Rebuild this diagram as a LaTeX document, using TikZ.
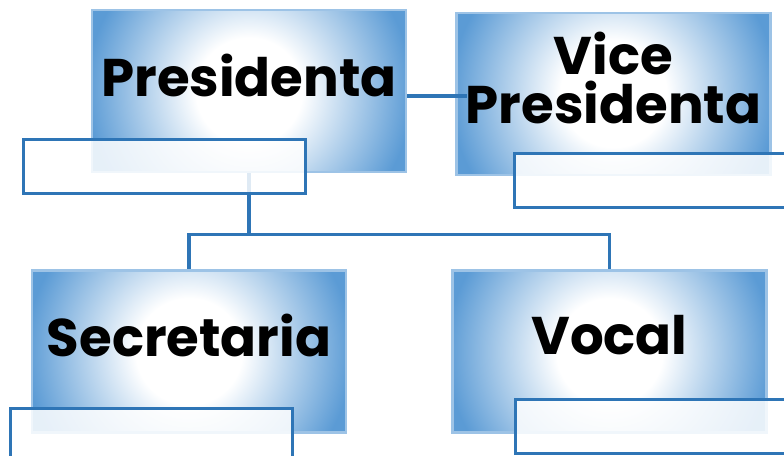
\documentclass[tikz,border=0pt]{standalone}
\usepackage{fontspec}
\setmainfont{Poppins}
\usetikzlibrary{positioning,calc}
\definecolor{glowblue}{HTML}{5B9BD5}
\definecolor{rimblue}{HTML}{9DC3E6}
\definecolor{linkblue}{HTML}{2E75B6}
\pgfdeclareradialshading{boxglow}{\pgfpoint{0bp}{0bp}}{color(0bp)=(white); color(7.5bp)=(white); color(23bp)=(glowblue); color(25bp)=(glowblue); color(50bp)=(glowblue)}

\begin{document}
\begin{tikzpicture}[
  x=1pt, y=1pt,
  font=\bfseries\fontsize{53}{49}\selectfont,
  role/.style={draw=rimblue, line width=2.5pt, fill=glowblue, inner sep=0pt,
               minimum width=314pt, minimum height=162pt,
               path picture={\shade[shading=boxglow]
                 (path picture bounding box.center) circle (177pt);}},
  rolename/.style={align=center, yshift=16pt},
  namebox/.style={draw=linkblue, line width=2.8pt, fill=white, fill opacity=0.85,
                  draw opacity=1, inner sep=0pt, anchor=north west,
                  minimum width=282pt, minimum height=54pt},
  link/.style={draw=linkblue, line width=3.2pt},
]
\useasboundingbox (0,0) rectangle (784,455);

% ---- role boxes ----
\node[role, label={[rolename]center:Presidenta}] (pres) at (249,364) {};
\node[role, label={[rolename]center:Vice\\Presidenta}] (vice) at (613.5,361) {};
\node[role, label={[rolename]center:Secretaria}] (sec) at (189,103.5) {};
\node[role, label={[rolename]center:Vocal}] (vocal) at (609.5,103.5) {};

% ---- connectors ----
\draw[link] ([yshift=-5pt]pres.east) -- ([xshift=12pt,yshift=-2pt]vice.west);
\draw[link] (pres.south) -- ++(0,-61) coordinate (fork);
\draw[link] (fork) -| (sec.north);
\draw[link] (fork) -| (vocal.north);

% ---- empty name boxes ----
\node[namebox] (presname)  at ([xshift=-69pt,yshift=35pt]pres.south west) {};
\node[namebox] (vicename)  at ([xshift=58pt,yshift=24pt]vice.south west) {};
\node[namebox] (secname)   at ([xshift=-22pt,yshift=27pt]sec.south west) {};
\node[namebox] (vocalname) at ([xshift=63pt,yshift=36pt]vocal.south west) {};
\end{tikzpicture}
\end{document}
